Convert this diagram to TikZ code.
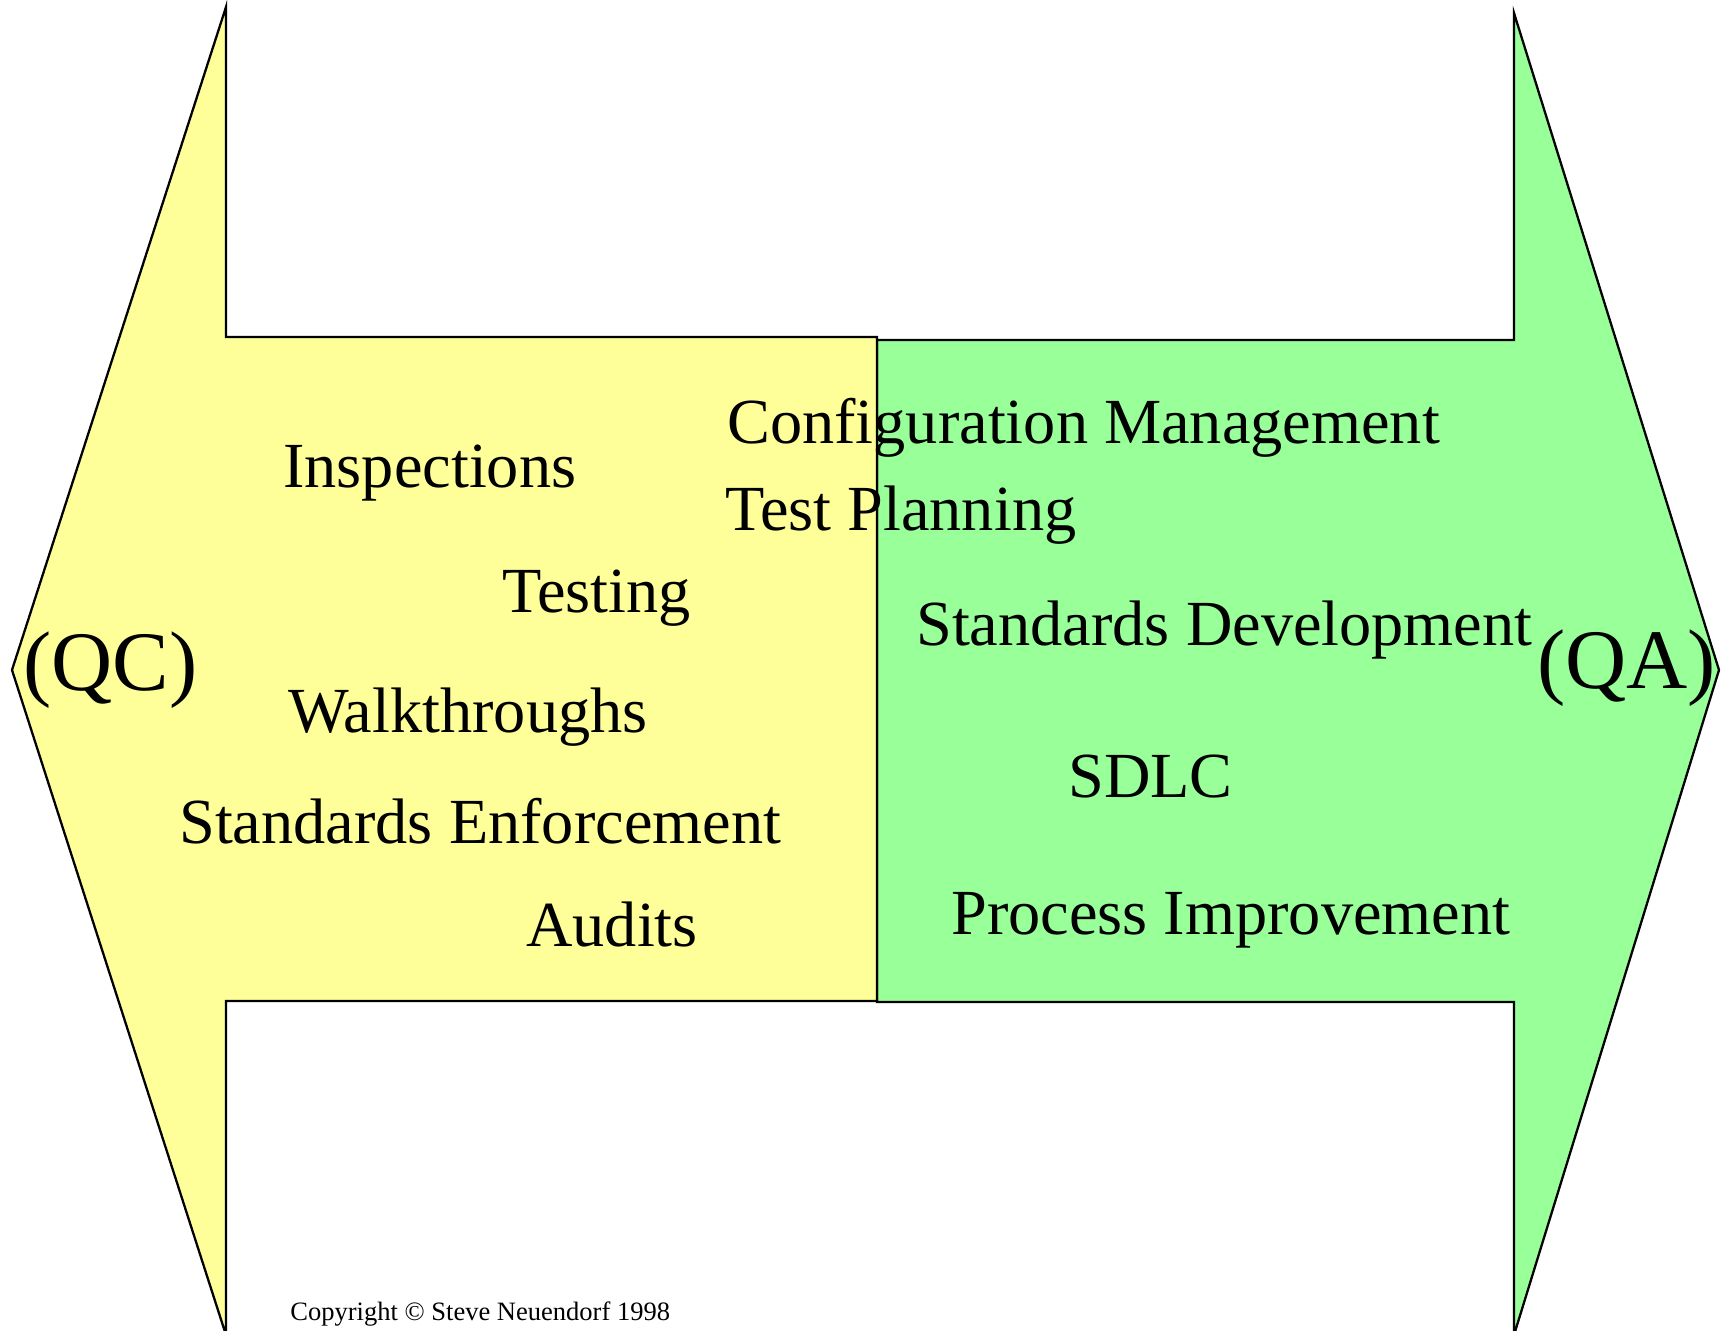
\documentclass[tikz,border=0pt]{standalone}
\usepackage{fontspec}
\setmainfont{Liberation Serif}
\definecolor{QCYellow}{RGB}{255,255,153}
\definecolor{QAGreen}{RGB}{153,255,153}
\tikzset{
  arrowshape/.style={draw=black, line width=1.3pt, line join=miter},
  item/.style={anchor=base west, inner sep=0pt, font=\fontsize{36.6}{40}\selectfont},
  side/.style={anchor=base west, inner sep=0pt, font=\fontsize{48.2}{52}\selectfont},
  note/.style={anchor=base west, inner sep=0pt, font=\fontsize{15.1}{17}\selectfont}
}
\begin{document}
\begin{tikzpicture}[x=0.02cm, y=-0.02cm]
    \useasboundingbox (0,0) rectangle (1722,1330);
    \coordinate (QCTop)    at (226,7);
    \coordinate (QCTip)    at (12,670);
    \coordinate (QCBottom) at (226,1335);
    \coordinate (QATop)    at (1514,13);
    \coordinate (QATip)    at (1719,670);
    \coordinate (QABottom) at (1514,1335);
    \draw [arrowshape, fill=QAGreen] (QATop) -- (QATip) -- (QABottom) -- (1514,1002) -- (877,1002) -- (877,340) -- (1514,340) -- cycle;% QA arrow
    \draw [arrowshape, fill=QCYellow] (QCTop) -- (QCTip) -- (QCBottom) -- (226,1001) -- (877,1001) -- (877,337) -- (226,337) -- cycle;% QC arrow
    \node [side] (QC) at (23,690) {(QC)};
    \node [side] (QA) at (1537,688) {(QA)};
    \node [item] (Inspections) at (283,487) {Inspections};
    \node [item] (Testing) at (502,612) {Testing};
    \node [item] (Walkthroughs) at (288,732) {Walkthroughs};
    \node [item] (StdEnforcement) at (179,843) {Standards Enforcement};
    \node [item] (Audits) at (526,946) {Audits};
    \node [item] (ConfigMgmt) at (727,443) {Configuration Management};
    \node [item] (TestPlanning) at (725,530) {Test Planning};
    \node [item] (StdDevelopment) at (916,645) {Standards Development};
    \node [item] (SDLC) at (1068,797) {SDLC};
    \node [item] (ProcImprovement) at (951,934) {Process Improvement};
    \node [note] (Copyright) at (290,1320) {Copyright © Steve Neuendorf 1998};
\end{tikzpicture}
\end{document}
